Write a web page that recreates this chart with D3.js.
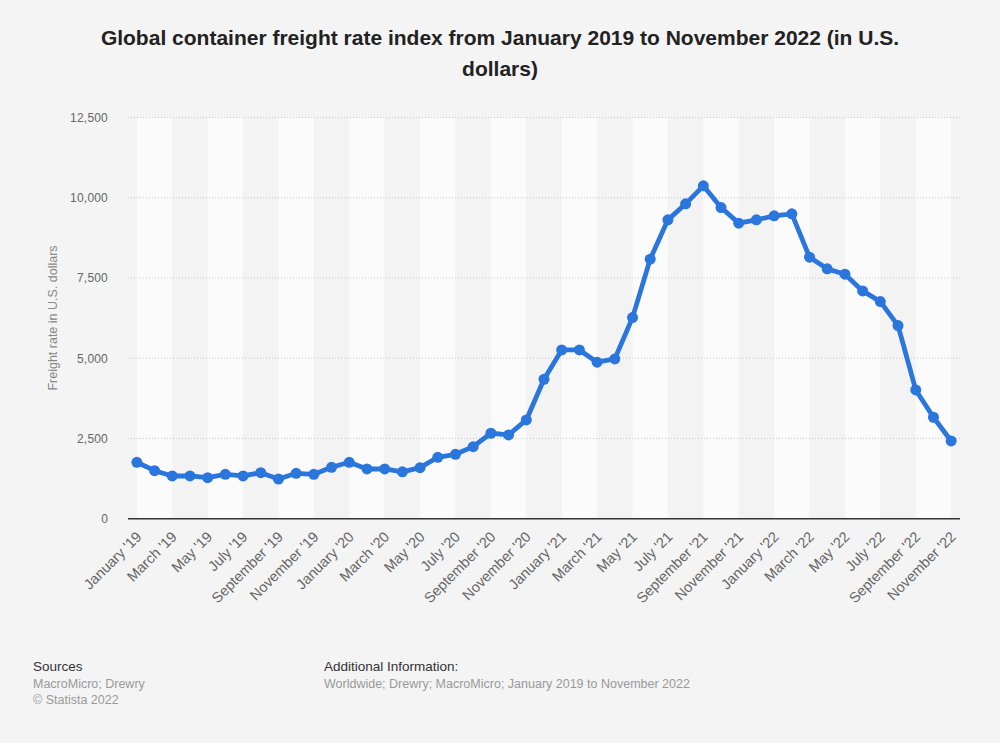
<!DOCTYPE html>
<html>
<head>
<meta charset="utf-8">
<script src="https://cdn.jsdelivr.net/npm/d3@7/dist/d3.min.js"></script>
<style>
  html, body { margin: 0; padding: 0; background: #f4f4f4; }
  svg { display: block; font-family: "Liberation Sans", Arial, sans-serif; }
</style>
</head>
<body>
<svg id="chart" width="1000" height="743"></svg>
<script>
const months = ["January","February","March","April","May","June","July","August","September","October","November","December"];
const years = ["19","20","21","22"];
const categories = [];
years.forEach(y => months.forEach(m => categories.push(m + " '" + y)));
categories.splice(47); // January '19 .. November '22

const values = [
  1758, 1496, 1331, 1331, 1278, 1383, 1331, 1434, 1237, 1414, 1383, 1601,
  1758, 1549, 1549, 1460, 1590, 1914, 2007, 2245, 2662, 2609, 3077, 4345,
  5259, 5259, 4875, 4978, 6266, 8086, 9311, 9810, 10371, 9695, 9208, 9311,
  9436, 9498, 8148, 7784, 7618, 7098, 6765, 6016, 4012, 3161, 2422
];
const yTicks = [0, 2500, 5000, 7500, 10000, 12500];
const xTickLabels = categories.filter((d, i) => i % 2 === 0);

const title = ["Global container freight rate index from January 2019 to November 2022 (in U.S.", "dollars)"];
const yTitle = "Freight rate in U.S. dollars";

(function () {
const svg = d3.select("#chart");
const pL = 128, pR = 960, pT = 117.5, pB = 518.7;

const x = d3.scalePoint().domain(categories).range([pL, pR]).padding(0.5);
const y = d3.scaleLinear().domain([0, 12500]).range([pB, pT]);

// plot background and bands
svg.append("rect").attr("x", pL).attr("y", pT).attr("width", pR - pL).attr("height", pB - pT).attr("fill", "#f3f3f3");
const bands = [];
for (let k = 0; 2 * k + 2 < categories.length; k++) bands.push(k);
svg.append("g").selectAll("rect").data(bands).join("rect")
  .attr("x", k => x(categories[2 * k]))
  .attr("width", k => x(categories[2 * k + 2]) - x(categories[2 * k]))
  .attr("y", pT).attr("height", pB - pT)
  .attr("fill", k => k % 2 === 0 ? "#fbfbfb" : "#f3f3f3");

// gridlines
svg.append("g").selectAll("line").data(yTicks.filter(t => t > 0)).join("line")
  .attr("x1", pL).attr("x2", pR)
  .attr("y1", d => y(d)).attr("y2", d => y(d))
  .attr("stroke", "#c8c8c8").attr("stroke-width", 1).attr("stroke-dasharray", "1,2");

// y axis labels
const yAxis = d3.axisLeft(y).tickValues(yTicks).tickSize(0).tickPadding(0).tickFormat(d3.format(","));
const gy = svg.append("g").attr("transform", "translate(108,0)").call(yAxis);
gy.select(".domain").remove();
gy.selectAll("text").attr("fill", "#666").attr("font-size", 12).attr("letter-spacing", 0.2)
  .attr("font-family", "Liberation Sans, Arial, sans-serif");

// x axis
svg.append("line").attr("x1", pL).attr("x2", pR).attr("y1", pB).attr("y2", pB)
  .attr("stroke", "#333").attr("stroke-width", 1.5);
const xAxis = d3.axisBottom(x).tickValues(xTickLabels).tickSize(0).tickPadding(0);
const gx = svg.append("g").attr("transform", `translate(0,${pB})`).call(xAxis);
gx.select(".domain").remove();
gx.selectAll("text")
  .attr("fill", "#666").attr("font-size", 14.5).attr("font-family", "Liberation Sans, Arial, sans-serif")
  .attr("text-anchor", "end")
  .attr("dy", 0)
  .attr("y", 0)
  .attr("transform", "translate(5,19) rotate(-45)");

// line
const line = d3.line().x((d, i) => x(categories[i])).y(d => y(d));
svg.append("path").datum(values).attr("d", line)
  .attr("fill", "none").attr("stroke", "#2a76dd").attr("stroke-width", 4.8)
  .attr("stroke-linejoin", "round").attr("stroke-linecap", "round");
svg.append("g").selectAll("circle").data(values).join("circle")
  .attr("cx", (d, i) => x(categories[i])).attr("cy", d => y(d)).attr("r", 5.5)
  .attr("fill", "#2a76dd");

// title
svg.append("g").selectAll("text").data(title).join("text")
  .attr("x", 500).attr("y", (d, i) => 45 + i * 30.6)
  .attr("text-anchor", "middle").attr("font-weight", "bold").attr("font-size", 21)
  .attr("fill", "#222").text(d => d);

// y title
svg.append("text").attr("transform", "translate(57,318) rotate(-90)")
  .attr("text-anchor", "middle").attr("font-size", 12.5).attr("fill", "#888").text(yTitle);

// footer
const foot = svg.append("g");
foot.append("text").attr("x", 33).attr("y", 671).attr("font-size", 13.5).attr("fill", "#333").text("Sources");
foot.append("text").attr("x", 33).attr("y", 688).attr("font-size", 12.5).attr("fill", "#999").text("MacroMicro; Drewry");
foot.append("text").attr("x", 33).attr("y", 704).attr("font-size", 12.5).attr("fill", "#999").text("© Statista 2022");
foot.append("text").attr("x", 324).attr("y", 671).attr("font-size", 13.5).attr("fill", "#333").text("Additional Information:");
foot.append("text").attr("x", 324).attr("y", 688).attr("font-size", 12.5).attr("fill", "#999").text("Worldwide; Drewry; MacroMicro; January 2019 to November 2022");
})();
</script>
</body>
</html>
